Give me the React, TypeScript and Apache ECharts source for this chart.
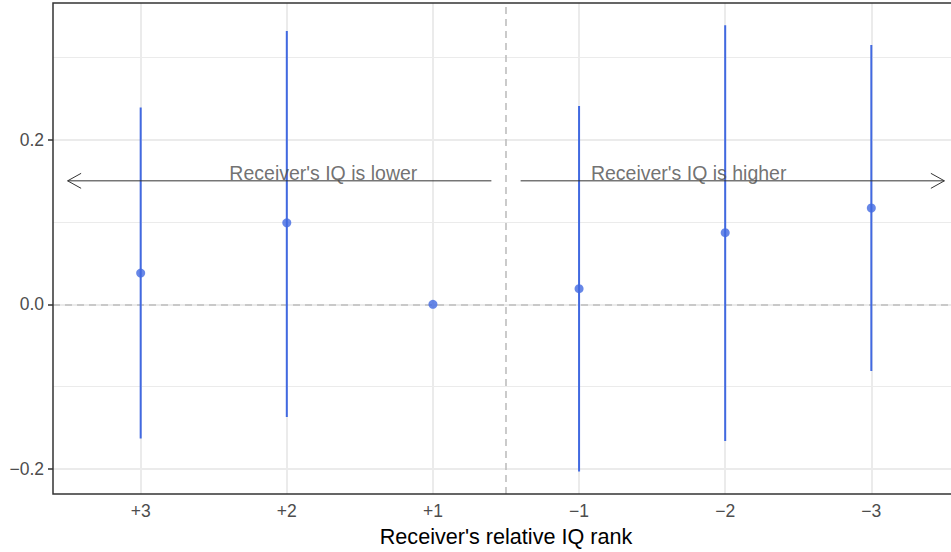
import React, { useEffect, useRef } from "react";
import * as echarts from "echarts";

const ranks = ["+3", "+2", "+1", "\u22121", "\u22122", "\u22123"];
const estimates = [0.038, 0.099, 0.0, 0.019, 0.087, 0.117];
const lowerCI = [-0.163, -0.137, 0.0, -0.203, -0.166, -0.081];
const upperCI = [0.239, 0.332, 0.0, 0.241, 0.339, 0.315];

const yTicks = [-0.2, 0.0, 0.2];
const yMinorGrid = [-0.1, 0.1, 0.3];
const xMin = 0.4;
const xMax = 6.6;
const yMin = -0.2305;
const yMax = 0.366;

const arrowY = 0.15;
const arrowFrom = [3.4, 3.6];
const arrowTo = [0.5, 6.5];
const arrowLabels = ["Receiver's IQ is lower", "Receiver's IQ is higher"];
const arrowLabelX = [2.25, 4.75];
const dividerX = 3.5;

const FONT = "'Liberation Sans', Arial, Helvetica, sans-serif";
const BLUE = "#4169E1";

const fmtMinus = (s: string) => s.replace("-", "\u2212");

export default function App() {
  const ref = useRef<HTMLDivElement>(null);

  useEffect(() => {
    if (!ref.current) return;
    const chart = echarts.init(ref.current, null, { renderer: "svg" });
    const xPos = ranks.map((_, i) => i + 1);

    const option: any = {
      animation: false,
      backgroundColor: "#ffffff",
      grid: {
        left: 53,
        top: 3,
        right: 0,
        bottom: 53,
        show: true,
        borderColor: "#333333",
        borderWidth: 1.5,
        backgroundColor: "transparent",
        z: 10,
      },
      xAxis: {
        type: "value",
        min: xMin,
        max: xMax,
        axisLine: { show: false },
        splitLine: { show: false },
        axisTick: {
          show: true,
          customValues: xPos,
          length: 5,
          lineStyle: { color: "#333333", width: 1.5 },
        },
        axisLabel: {
          customValues: xPos,
          formatter: (v: number) => ranks[Math.round(v) - 1] ?? "",
          color: "#4d4d4d",
          fontFamily: FONT,
          fontSize: 17.5,
          margin: 8,
        },
        name: "Receiver's relative IQ rank",
        nameLocation: "middle",
        nameGap: 29,
        nameTextStyle: { color: "#000000", fontFamily: FONT, fontSize: 21.6 },
      },
      yAxis: {
        type: "value",
        min: yMin,
        max: yMax,
        axisLine: { show: false },
        splitLine: { show: false },
        axisTick: {
          show: true,
          customValues: yTicks,
          length: 5,
          lineStyle: { color: "#333333", width: 1.5 },
        },
        axisLabel: {
          customValues: yTicks,
          formatter: (v: number) => fmtMinus(v.toFixed(1)),
          color: "#4d4d4d",
          fontFamily: FONT,
          fontSize: 17.5,
          margin: 9,
        },
      },
      series: [
        {
          type: "line",
          data: [],
          z: 1,
          silent: true,
          markLine: {
            z: 1,
            silent: true,
            symbol: ["none", "none"],
            label: { show: false },
            emphasis: { disabled: true },
            data: [
              ...yMinorGrid.map((v) => ({ yAxis: v, lineStyle: { color: "#ebebeb", width: 1, type: "solid" } })),
              ...yTicks.map((v) => ({ yAxis: v, lineStyle: { color: "#ebebeb", width: 2, type: "solid" } })),
              ...xPos.map((v) => ({ xAxis: v, lineStyle: { color: "#ebebeb", width: 2, type: "solid" } })),
            ],
          },
        },
        {
          type: "line",
          data: [],
          z: 2,
          silent: true,
          markLine: {
            z: 2,
            silent: true,
            symbol: ["none", "none"],
            label: { show: false },
            emphasis: { disabled: true },
            lineStyle: { color: "#bebebe", width: 1.6, type: [7, 5] },
            data: [{ yAxis: 0 }, { xAxis: dividerX }],
          },
        },
        {
          type: "custom",
          z: 3,
          silent: true,
          data: xPos.map((x, i) => [x, lowerCI[i], upperCI[i]]),
          renderItem: (params: any, api: any) => {
            const x = api.value(0);
            const lo = api.coord([x, api.value(1)]);
            const hi = api.coord([x, api.value(2)]);
            return {
              type: "line",
              shape: { x1: lo[0], y1: lo[1], x2: hi[0], y2: hi[1] },
              style: { stroke: BLUE, lineWidth: 2 },
            };
          },
        },
        {
          type: "scatter",
          z: 4,
          symbol: "circle",
          symbolSize: 9,
          itemStyle: { color: BLUE },
          data: xPos.map((x, i) => [x, estimates[i]]),
        },
        {
          type: "custom",
          z: 5,
          silent: true,
          data: arrowFrom.map((f, i) => [f, arrowTo[i], arrowY]),
          renderItem: (params: any, api: any) => {
            const a = api.coord([api.value(0), api.value(2)]);
            const b = api.coord([api.value(1), api.value(2)]);
            const dir = b[0] > a[0] ? 1 : -1;
            const hl = 13.5;
            const hw = 7.5;
            return {
              type: "group",
              children: [
                {
                  type: "line",
                  shape: { x1: a[0], y1: a[1], x2: b[0], y2: b[1] },
                  style: { stroke: "#333333", lineWidth: 1 },
                },
                {
                  type: "polyline",
                  shape: {
                    points: [
                      [b[0] - dir * hl, b[1] - hw],
                      [b[0], b[1]],
                      [b[0] - dir * hl, b[1] + hw],
                    ],
                  },
                  style: { stroke: "#333333", lineWidth: 1, fill: null },
                },
              ],
            };
          },
        },
        {
          type: "scatter",
          z: 6,
          silent: true,
          symbolSize: 0,
          data: arrowLabelX.map((x, i) => ({ value: [x, arrowY], name: arrowLabels[i] })),
          label: {
            show: true,
            position: "top",
            distance: 0,
            offset: [0, 2],
            formatter: (p: any) => p.name,
            color: "#4d4d4d",
            fontFamily: FONT,
            fontSize: 19.5,
          },
        },
      ],
    };

    chart.setOption(option);
    return () => chart.dispose();
  }, []);

  return (
    <div style={{ width: 951, height: 552, position: "absolute", left: 0, top: 0, overflow: "hidden" }}>
      <div ref={ref} style={{ width: 959, height: 552 }} />
    </div>
  );
}
